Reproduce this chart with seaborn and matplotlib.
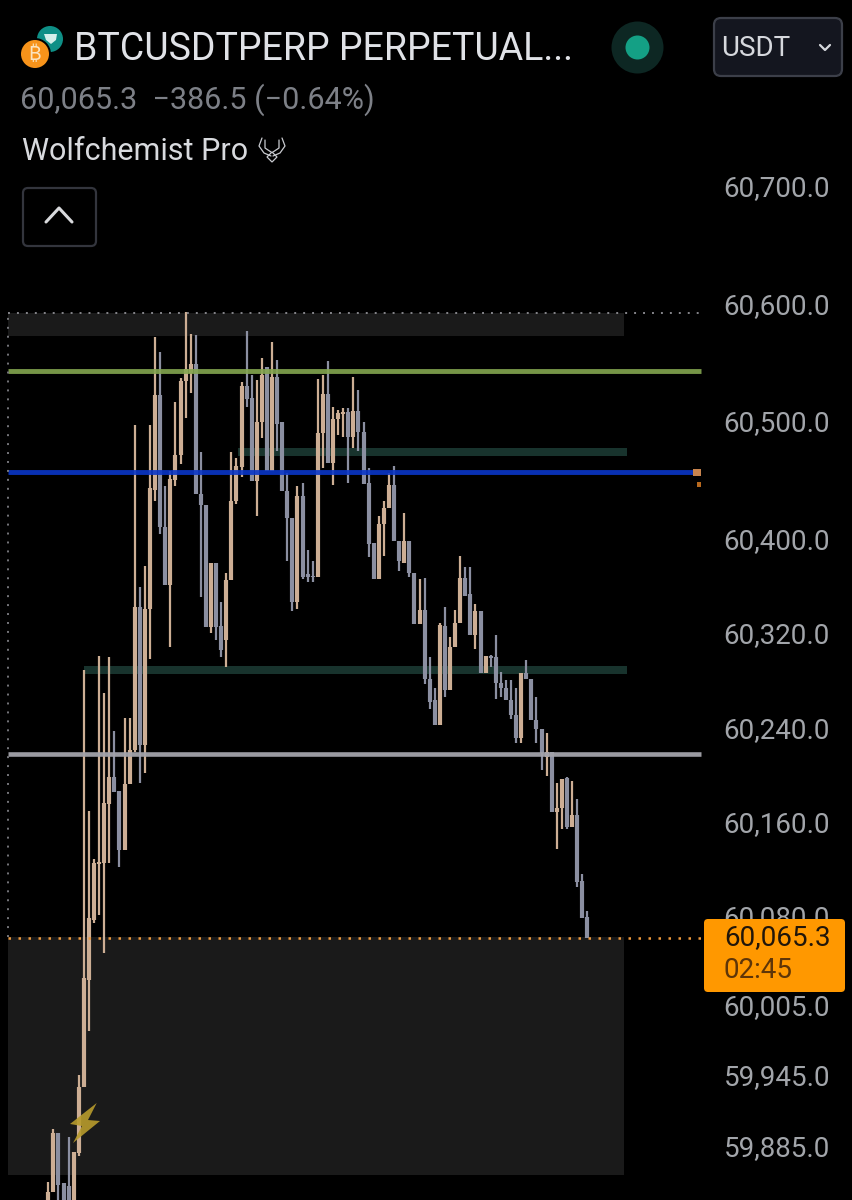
#!/usr/bin/env python3

import pandas as pd
import matplotlib.pyplot as plt
from matplotlib.patches import Circle, FancyBboxPatch, Polygon
from matplotlib.transforms import ScaledTranslation
import seaborn as sns

# candles, oldest first
opens = [59827, 59847, 59897, 59854, 59852, 59835, 59880, 59936, 60027, 60078,
         60125, 60126, 60176, 60199, 60187, 60137, 60193, 60222, 60343, 60226,
         60342, 60443, 60523, 60411, 60362, 60451, 60472, 60535, 60542, 60550,
         60439, 60430, 60326, 60381, 60327, 60315, 60366, 60433, 60462, 60531,
         60521, 60450, 60500, 60547, 60459, 60539, 60500, 60442, 60419, 60348,
         60438, 60371, 60370, 60369, 60491, 60524, 60466, 60503, 60507, 60509,
         60488, 60510, 60492, 60449, 60398, 60367, 60414, 60427, 60447, 60399,
         60381, 60399, 60372, 60329, 60341, 60282, 60264, 60243, 60327, 60273,
         60309, 60330, 60368, 60354, 60320, 60340, 60287, 60302, 60301, 60279,
         60275, 60264, 60252, 60232, 60287, 60282, 60247, 60240, 60216, 60220,
         60169, 60173, 60198, 60157, 60167, 60111, 60080]
highs = [59855, 59900, 59897, 59854, 59893, 59881, 59946, 60290, 60170, 60129,
         60302, 60270, 60301, 60238, 60187, 60249, 60249, 60498, 60360, 60378,
         60498, 60573, 60560, 60446, 60459, 60517, 60538, 60594, 60575, 60574,
         60475, 60430, 60381, 60381, 60348, 60372, 60475, 60470, 60534, 60578,
         60540, 60536, 60555, 60547, 60568, 60553, 60500, 60457, 60419, 60446,
         60449, 60392, 60382, 60537, 60540, 60552, 60513, 60511, 60512, 60512,
         60539, 60528, 60500, 60461, 60398, 60421, 60433, 60457, 60463, 60399,
         60423, 60399, 60372, 60367, 60368, 60301, 60275, 60330, 60343, 60318,
         60341, 60387, 60377, 60377, 60346, 60340, 60302, 60303, 60320, 60288,
         60281, 60281, 60275, 60287, 60298, 60282, 60267, 60240, 60236, 60220,
         60194, 60197, 60199, 60196, 60180, 60117, 60085]
lows = [59819, 59847, 59827, 59820, 59820, 59820, 59877, 59936, 59983, 60075,
        60082, 60050, 60126, 60186, 60123, 60137, 60193, 60220, 60194, 60202,
        60299, 60433, 60405, 60362, 60309, 60446, 60465, 60504, 60525, 60439,
        60352, 60326, 60321, 60315, 60301, 60292, 60366, 60431, 60454, 60513,
        60450, 60421, 60487, 60459, 60459, 60476, 60442, 60382, 60340, 60342,
        60367, 60365, 60365, 60369, 60461, 60466, 60447, 60489, 60488, 60449,
        60478, 60476, 60448, 60386, 60367, 60367, 60387, 60427, 60399, 60374,
        60381, 60369, 60329, 60329, 60278, 60257, 60243, 60243, 60267, 60273,
        60309, 60330, 60353, 60320, 60308, 60287, 60287, 60292, 60265, 60267,
        60264, 60248, 60228, 60228, 60282, 60247, 60228, 60205, 60200, 60169,
        60138, 60155, 60155, 60157, 60106, 60079, 60062]
closes = [59847, 59897, 59853, 59827, 59827, 59881, 59936, 60028, 60079, 60126,
          60127, 60177, 60199, 60186, 60137, 60193, 60222, 60343, 60226, 60342,
          60444, 60523, 60411, 60362, 60452, 60472, 60535, 60545, 60550, 60439,
          60430, 60326, 60381, 60326, 60307, 60366, 60433, 60463, 60531, 60520,
          60450, 60500, 60540, 60459, 60539, 60499, 60442, 60419, 60348, 60438,
          60369, 60369, 60369, 60491, 60524, 60466, 60503, 60508, 60509, 60488,
          60510, 60492, 60448, 60397, 60367, 60414, 60427, 60447, 60399, 60382,
          60399, 60372, 60329, 60341, 60282, 60263, 60243, 60328, 60273, 60309,
          60330, 60368, 60353, 60320, 60340, 60287, 60302, 60300, 60279, 60275,
          60264, 60252, 60232, 60287, 60282, 60247, 60240, 60219, 60220, 60169,
          60173, 60197, 60157, 60167, 60110, 60079, 60062]

# right hand price scale
tick_prices = [60700, 60600, 60500, 60400, 60320, 60240, 60160, 60080, 60005, 59945, 59885]

# price levels from the indicator
green_level = 60543.7
blue_level = 60458.0
grey_level = 60218.6
last_level = 60062.3
top_zone = (60573.4, 60593.0)
bottom_zone = (59861.1, 60063.2)
upper_band = (60471.5, 60478.3)
lower_band = (60286.5, 60293.3)

TAN = "#CDAE94"
SLATE = "#8B8FA1"
W, H = 853, 1200
FONT = "Roboto"

sns.set_theme(style="dark", rc={"axes.facecolor": "black", "figure.facecolor": "black",
                                "axes.grid": False})
plt.rcParams["font.family"] = [FONT, "DejaVu Sans"]

df = pd.DataFrame({"i": range(len(opens)), "open": opens, "high": highs, "low": lows, "close": closes})
df["dir"] = ["up" if c > o else "down" for o, c in zip(df["open"], df["close"])]
wicks = df.melt(id_vars=["i", "dir"], value_vars=["high", "low"], value_name="price")
bodies = df.melt(id_vars=["i", "dir"], value_vars=["open", "close"], value_name="price")
palette = {"up": TAN, "down": SLATE}

fig = plt.figure(figsize=(W / 100, H / 100), dpi=100)
ax = fig.add_axes([0, 0, 1, 1])
ui = fig.add_axes([0, 0, 1, 1], zorder=5)
ui.set_xlim(0, W)
ui.set_ylim(H, 0)
ui.axis("off")

# zones sit behind the candles
ax.axhspan(*top_zone, xmin=8 / W, xmax=624 / W, color="#1A1A1A", lw=0, zorder=0)
ax.axhspan(*bottom_zone, xmin=8 / W, xmax=624 / W, color="#1A1A1A", lw=0, zorder=0)
ax.axhspan(*upper_band, xmin=238 / W, xmax=627 / W, color="#18332D", lw=0, zorder=0)
ax.axhspan(*lower_band, xmin=84 / W, xmax=627 / W, color="#18332D", lw=0, zorder=0)

sns.lineplot(data=wicks, x="i", y="price", hue="dir", units="i", estimator=None, palette=palette,
             linewidth=1.6, solid_capstyle="butt", legend=False, ax=ax, zorder=2)
sns.lineplot(data=bodies, x="i", y="price", hue="dir", units="i", estimator=None, palette=palette,
             linewidth=3.0, solid_capstyle="butt", legend=False, ax=ax, zorder=2)

ax.axhline(green_level, xmin=8 / W, xmax=701 / W, color="#84A650", lw=3.5, alpha=0.9, zorder=3,
           solid_capstyle="butt")
ax.axhline(blue_level, xmin=8 / W, xmax=693 / W, color="#0A36C8", lw=3.5, alpha=0.9, zorder=3,
           solid_capstyle="butt")
ax.axhline(grey_level, xmin=8 / W, xmax=701 / W, color="#A3A3AB", lw=3.3, alpha=0.95, zorder=3,
           solid_capstyle="butt")
ax.axhline(top_zone[1], xmin=8 / W, xmax=701 / W, color="#85858A", lw=1.4, ls=(0, (1, 3.6)), zorder=3)
ax.axhline(last_level, xmin=8 / W, xmax=703 / W, color="#F09A3C", lw=1.8, ls=(0, (1, 3)), zorder=4)
ax.axvline((8 - 48.3) / 5.085, ymin=(H - 937) / H, ymax=(H - 313) / H, color="#77777C",
           lw=1.4, ls=(0, (1, 3.6)), zorder=3)

# 48.3px is the first candle, 5.085px between candles
ax.set_xlim(-48.3 / 5.085, (W - 48.3) / 5.085)
ax.set_ylim(60858.7 - 0.849 * H, 60858.7)
ax.set_xlabel("")
ax.set_ylabel("")
ax.set_xticks([])
ax.set_yticks(tick_prices)
ax.set_yticklabels([f"{p:,.1f}" for p in tick_prices], fontsize=20, color="#A2A5AA", ha="right",
                   va="center_baseline")
ax.yaxis.tick_right()
ax.tick_params(axis="y", length=0, pad=-16.5, labelright=True, labelleft=False)
nudge = ScaledTranslation(0, 1.5 / 100, fig.dpi_scale_trans)
for label in ax.get_yticklabels():
    label.set_transform(label.get_transform() + nudge)
sns.despine(ax=ax, left=True, right=True, top=True, bottom=True)

# little orange tags on the blue level
ui.add_patch(plt.Rectangle((693, 469), 8, 7, color="#C8844E", lw=0))
ui.add_patch(plt.Rectangle((697, 482), 4, 5, color="#B8691E", lw=0))

# header
ui.add_patch(Circle((50, 39), 13, color="#0E8F86", lw=0))
ui.add_patch(Polygon([(44, 34), (57, 34), (56, 40), (51, 44), (46, 40)], color="#D5EFEA", lw=0))
ui.add_patch(Circle((35, 54), 16, color="black", lw=0))
ui.add_patch(Circle((35, 54), 14, color="#F7931A", lw=0))
ui.text(35, 54.5, "₿", color="#FBE3BF", fontsize=14, ha="center", va="center",
        family=["Inter", "Noto Sans", "Open Sans", "Lato", "Liberation Sans", "DejaVu Sans"])
ui.text(74, 49.5, "BTCUSDTPERP PERPETUAL...", color="#E0E2E7", fontsize=27, va="center", family=FONT)
ui.text(20, 100, "60,065.3  −386.5 (−0.64%)", color="#7D8087", fontsize=22, va="center")
ui.text(22, 152, "Wolfchemist Pro", color="#D8DADE", fontsize=22, va="center", family=FONT)

# wolf logo next to the name
for pts in ([(262, 138), (259, 146), (264, 153), (271, 156)],
            [(282, 138), (285, 146), (280, 153), (273, 156)],
            [(265, 140), (265, 148), (271, 152)],
            [(279, 140), (279, 148), (273, 152)]):
    ui.plot(*zip(*pts), color="#C9CBD0", lw=0.9)
ui.add_patch(Polygon([(272, 152), (277, 157), (272, 162), (267, 157)], fill=False, ec="#C9CBD0", lw=0.9))

ui.add_patch(Circle((637.5, 47.5), 26, color="#0D2723", lw=0))
ui.add_patch(Circle((637.5, 47.5), 12, color="#14A085", lw=0))

ui.add_patch(FancyBboxPatch((714, 18), 128, 58, boxstyle="round,pad=0,rounding_size=7",
                            fc="#14161F", ec="#3C3F49", lw=1.6))
ui.text(721, 48, "USDT", color="#D6D8DD", fontsize=20, va="center", family=FONT)
ui.plot([820, 825, 830], [45, 50, 45], color="#D6D8DD", lw=1.6)

ui.add_patch(FancyBboxPatch((23, 188), 73, 58, boxstyle="round,pad=0,rounding_size=5",
                            fc="black", ec="#33353D", lw=1.6))
ui.plot([46, 59, 72], [222, 208, 222], color="#D9DADD", lw=2.2)

# last price tag
ui.add_patch(FancyBboxPatch((704, 919), 141, 73, boxstyle="round,pad=0,rounding_size=4",
                            fc="#FF9800", ec="none"))
ui.text(831, 938, "60,065.3", color="#21160A", fontsize=20, ha="right", va="center", family=FONT)
ui.text(724, 970, "02:45", color="#5E3508", fontsize=20, va="center", family=FONT)

# lightning marker
ui.add_patch(Polygon([(96.7, 1103), (70, 1124), (82, 1126), (73, 1143), (100, 1121), (88, 1120)],
                     color="#B89C2C", alpha=0.9, lw=0))

fig.savefig("out.png", dpi=100, facecolor="black")
plt.close(fig)
